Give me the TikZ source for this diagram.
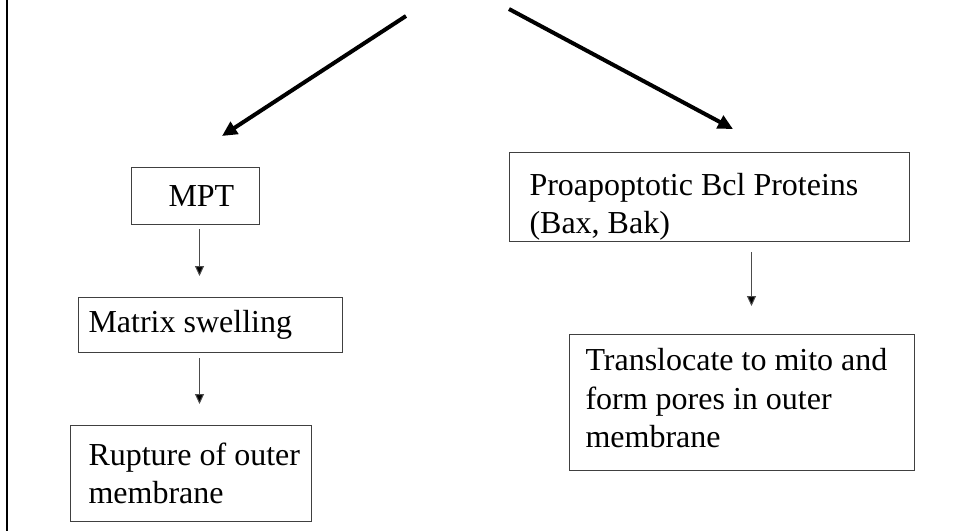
\documentclass[tikz,border=0pt]{standalone}
\usepackage{fontspec}
\setmainfont{Liberation Serif}
\usetikzlibrary{arrows.meta}
\begin{document}
\begin{tikzpicture}[x=1pt, y=-1pt,
  box/.style={draw=black!75, line width=1pt, anchor=north west, align=flush left,
    font=\fontsize{32}{38.4}\selectfont, inner ysep=0pt},
  thick arr/.style={line width=4pt, -{Triangle[length=15pt,width=14pt]}},
  thin arr/.style={draw=black!70, line width=1pt, -{Triangle[length=10pt,width=9pt,fill=black]}}]
\useasboundingbox (0,0) rectangle (954,531);
\draw[line width=2.5pt] (7,0) -- (7,531);

% left branch
\node[box, minimum height=57pt, text width=54pt, inner xsep=37pt] (mpt) at (131,167) {\mbox{MPT}};
\node[box, minimum height=55pt, text width=244pt, inner xsep=10pt] (swell) at (78,297) {Matrix swelling};
\node[box, minimum height=96pt, text width=205pt, inner xsep=18pt] (rupt) at (70,425) {\mbox{Rupture of outer}\\membrane};

% right branch
\node[box, minimum height=89pt, text width=360pt, inner xsep=20pt, text height=42pt] (bcl) at (509,152) {Proapoptotic Bcl Proteins\\(Bax, Bak)};
\node[box, minimum height=136pt, text width=313pt, inner xsep=16pt, text depth=86pt] (pore) at (569,334) {Translocate to mito and\\form pores in outer\\membrane};

% thick arrows from the top
\coordinate (src-l) at (406,16);
\coordinate (tip-l) at (222,136);
\coordinate (src-r) at (509,9);
\coordinate (tip-r) at (733,129);
\draw[thick arr] (src-l) -- (tip-l);
\draw[thick arr] (src-r) -- (tip-r);

% thin arrows between boxes
\coordinate (mpt-out) at ([xshift=4pt,yshift=-4pt]mpt.south);
\coordinate (swell-out) at ([xshift=-11pt,yshift=-5pt]swell.south);
\coordinate (bcl-out) at ([xshift=42pt,yshift=-10pt]bcl.south);
\draw[thin arr, shorten >=21pt] (mpt-out) -- (mpt-out |- swell.north);
\draw[thin arr, shorten >=21pt] (swell-out) -- (swell-out |- rupt.north);
\draw[thin arr, shorten >=28pt] (bcl-out) -- (bcl-out |- pore.north);
\end{tikzpicture}
\end{document}
